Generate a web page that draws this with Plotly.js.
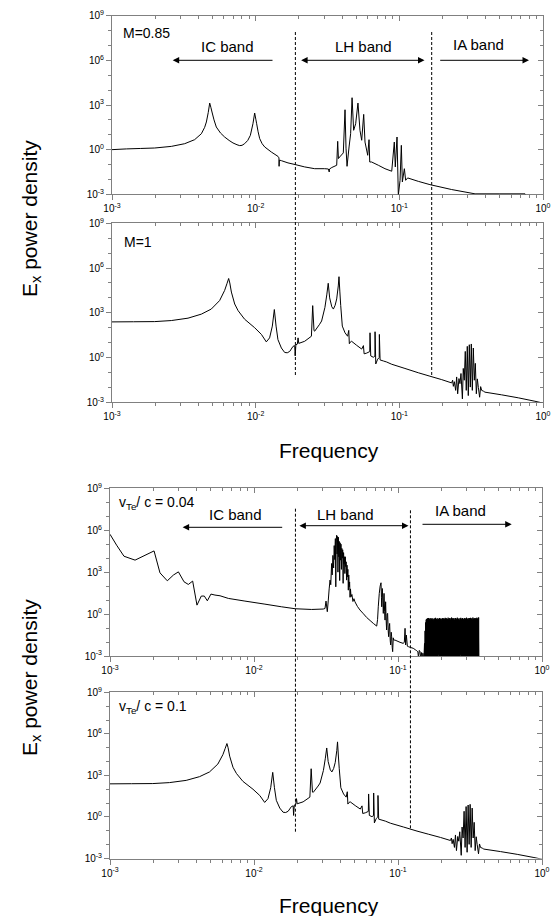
<!DOCTYPE html>
<html>
<head>
<meta charset="utf-8">
<script src="https://cdn.plot.ly/plotly-3.0.1.min.js"></script>
<style>html,body{margin:0;padding:0;background:#fff;}#chart{width:555px;height:916px;}</style>
</head>
<body>
<div id="chart"></div>
<script>
// ---------- DATA (log10 values) ----------
// Panel 1: M = 0.85
const logFreqM085 = [
 -3.000,-2.900,-2.800,-2.703,-2.587,-2.494,-2.425,-2.378,-2.355,-2.343,
 -2.330,-2.320,-2.312,-2.304,-2.290,-2.274,-2.245,-2.216,-2.185,-2.158,
 -2.130,-2.111,-2.095,-2.077,-2.055,-2.037,-2.019,-2.007,-1.998,-1.993,
 -1.983,-1.972,-1.955,-1.937,-1.891,-1.845,-1.838,-1.837,-1.835,-1.821,
 -1.775,-1.726,-1.659,-1.589,-1.520,-1.494,-1.488,-1.486,-1.470,-1.436,
 -1.429,-1.424,-1.415,-1.390,-1.378,-1.371,-1.364,-1.350,-1.339,-1.329,
 -1.318,-1.304,-1.288,-1.274,-1.262,-1.248,-1.239,-1.220,-1.211,-1.206,
 -1.193,-1.146,-1.100,-1.053,-1.035,-1.028,-1.016,-1.007,-0.995,-0.986,
 -0.979,-0.965,-0.956,-0.942,-0.868,-0.787,-0.636,-0.473,-0.300,-0.125,
 -0.110,0.000];
const logPowerM085 = [
 0.00,0.05,0.08,0.11,0.22,0.40,0.67,1.07,1.50,1.86,
 2.50,3.13,2.85,2.53,2.00,1.52,1.12,0.85,0.62,0.45,
 0.33,0.27,0.29,0.40,0.62,0.96,1.74,2.46,2.00,1.74,
 1.20,0.74,0.40,0.18,-0.16,-0.45,-0.55,-1.12,-0.70,-0.74,
 -0.89,-1.00,-1.16,-1.28,-1.28,-1.30,-1.50,-1.30,-1.20,-1.05,
 0.56,-0.60,-0.49,-0.22,2.68,0.10,-1.12,0.18,1.07,3.49,
 1.30,1.74,3.13,1.30,0.63,2.37,0.51,-0.38,0.67,-0.83,
 -0.83,-1.05,-1.28,-1.45,0.51,-1.16,0.85,-3.06,-2.06,0.29,
 -2.17,-1.28,-2.06,-1.90,-2.13,-2.35,-2.68,-2.97,-2.97,-2.97,
 -3.40,-4.00];

// Panel 2: M = 1  (panel 4, vTe/c = 0.1, shows the same spectrum)
const logFreqM1 = [
 -3.000,-2.850,-2.703,-2.587,-2.471,-2.378,-2.309,-2.251,-2.216,-2.200,
 -2.188,-2.180,-2.169,-2.146,-2.122,-2.077,-2.007,-1.960,-1.926,-1.903,
 -1.884,-1.870,-1.858,-1.845,-1.821,-1.798,-1.780,-1.763,-1.740,-1.728,
 -1.725,-1.720,-1.710,-1.705,-1.700,-1.659,-1.612,-1.603,-1.594,-1.589,
 -1.555,-1.541,-1.518,-1.505,-1.495,-1.485,-1.470,-1.459,-1.447,-1.436,
 -1.425,-1.420,-1.414,-1.408,-1.397,-1.378,-1.360,-1.352,-1.348,-1.340,
 -1.332,-1.297,-1.262,-1.250,-1.245,-1.227,-1.206,-1.204,-1.199,-1.181,
 -1.170,-1.169,-1.164,-1.151,-1.140,-1.139,-1.134,-1.111,-1.088,-1.053,
 -0.961,-0.868,-0.787,-0.705,-0.636,-0.629,-0.624,-0.617,-0.608,-0.601,
 -0.594,-0.585,-0.578,-0.571,-0.561,-0.555,-0.548,-0.541,-0.534,-0.527,
 -0.520,-0.513,-0.506,-0.499,-0.492,-0.485,-0.478,-0.471,-0.464,-0.457,
 -0.450,-0.441,-0.434,-0.427,-0.415,-0.404,-0.288,-0.172,-0.056,0.000];
const logPowerM1 = [
 2.39,2.40,2.41,2.48,2.64,2.91,3.25,3.82,4.50,4.95,
 5.30,5.00,4.39,3.59,3.14,2.57,2.00,1.55,1.05,1.32,
 2.11,3.22,2.11,1.20,0.64,0.34,0.32,0.41,0.75,0.80,
 0.11,0.86,0.90,1.32,0.95,1.09,1.43,3.48,1.80,1.77,
 2.23,2.45,3.36,4.20,4.98,4.00,3.40,3.25,3.50,3.93,
 4.80,5.42,4.40,3.48,2.11,1.66,1.43,1.82,0.93,1.05,
 1.09,0.82,0.57,0.80,0.25,0.30,0.40,1.66,0.11,0.02,
 0.10,1.73,-0.43,-0.11,0.00,1.55,-0.16,-0.23,-0.30,-0.45,
 -0.73,-1.02,-1.25,-1.48,-1.70,-1.52,-1.93,-1.62,-2.20,-1.30,
 -2.43,-1.41,-1.75,-1.07,-2.77,-0.73,-1.52,0.41,-2.20,0.75,
 -2.55,0.86,-1.98,0.91,-2.20,0.64,-1.52,-0.39,-2.43,-1.43,
 -2.00,-2.66,-1.95,-2.20,-2.25,-2.32,-2.50,-2.70,-2.93,-3.05];

// Panel 3: vTe/c = 0.04
const logFreqV004 = [
 -3.000,-2.954,-2.903,-2.826,-2.694,-2.653,-2.602,-2.560,-2.525,-2.486,
 -2.456,-2.426,-2.396,-2.366,-2.345,-2.324,-2.299,-2.271,-2.236,-2.178,
 -2.063,-1.924,-1.808,-1.713,-1.600,-1.519,-1.507,-1.500,-1.491,-1.484,
 -1.478,-1.472,-1.467,-1.461,-1.457,-1.452,-1.447,-1.443,-1.439,-1.435,
 -1.432,-1.429,-1.426,-1.423,-1.420,-1.417,-1.414,-1.411,-1.408,-1.405,
 -1.402,-1.399,-1.396,-1.393,-1.390,-1.387,-1.384,-1.381,-1.378,-1.375,
 -1.372,-1.369,-1.366,-1.363,-1.360,-1.357,-1.354,-1.351,-1.348,-1.345,
 -1.342,-1.339,-1.336,-1.333,-1.330,-1.326,-1.320,-1.313,-1.306,-1.299,
 -1.282,-1.264,-1.240,-1.218,-1.194,-1.171,-1.148,-1.142,-1.137,-1.130,
 -1.124,-1.118,-1.115,-1.113,-1.109,-1.105,-1.102,-1.097,-1.093,-1.090,
 -1.086,-1.082,-1.079,-1.075,-1.072,-1.068,-1.065,-1.061,-1.058,-1.054,
 -1.051,-1.047,-1.044,-1.040,-1.037,-1.033,-1.030,-1.021,-0.986,-0.963,
 -0.956,-0.951,-0.947,-0.942,-0.935,-0.928,-0.910,-0.894,-0.880,-0.870,
 -0.862,-0.858,-0.852,-0.847,-0.842,-0.836,-0.831,-0.827,-0.824,-0.820,
 // IA band (dense)
 -0.816,-0.814,-0.812,-0.810,-0.808,-0.806,-0.804,-0.802,-0.800,-0.798,
 -0.796,-0.794,-0.792,-0.790,-0.788,-0.786,-0.784,-0.782,-0.780,-0.778,
 -0.776,-0.774,-0.772,-0.770,-0.768,-0.766,-0.764,-0.762,-0.760,-0.758,
 -0.756,-0.754,-0.752,-0.750,-0.748,-0.746,-0.744,-0.742,-0.740,-0.738,
 -0.736,-0.734,-0.732,-0.730,-0.728,-0.726,-0.724,-0.722,-0.720,-0.718,
 -0.716,-0.714,-0.712,-0.710,-0.708,-0.706,-0.704,-0.702,-0.700,-0.698,
 -0.696,-0.694,-0.692,-0.690,-0.688,-0.686,-0.684,-0.682,-0.680,-0.678,
 -0.676,-0.674,-0.672,-0.670,-0.668,-0.666,-0.664,-0.662,-0.660,-0.658,
 -0.656,-0.654,-0.652,-0.650,-0.648,-0.646,-0.644,-0.642,-0.640,-0.638,
 -0.636,-0.634,-0.632,-0.630,-0.628,-0.626,-0.624,-0.622,-0.620,-0.618,
 -0.616,-0.614,-0.612,-0.610,-0.608,-0.606,-0.604,-0.602,-0.600,-0.598,
 -0.596,-0.594,-0.592,-0.590,-0.588,-0.586,-0.584,-0.582,-0.580,-0.578,
 -0.576,-0.574,-0.572,-0.570,-0.568,-0.566,-0.564,-0.562,-0.560,-0.558,
 -0.556,-0.554,-0.552,-0.550,-0.548,-0.546,-0.544,-0.542,-0.540,-0.538,
 -0.536,-0.534,-0.532,-0.530,-0.528,-0.526,-0.524,-0.522,-0.520,-0.518,
 -0.516,-0.514,-0.512,-0.510,-0.508,-0.506,-0.504,-0.502,-0.500,-0.498,
 -0.496,-0.494,-0.492,-0.490,-0.488,-0.486,-0.484,-0.482,-0.480,-0.478,
 -0.476,-0.474,-0.472,-0.470,-0.468,-0.466,-0.464,-0.462,-0.460,-0.458,
 -0.456,-0.454,-0.452,-0.450,-0.448,-0.446,-0.444,-0.442,-0.440,-0.438,
 -0.436];
const logPowerV004 = [
 5.71,4.93,4.14,3.86,4.52,2.95,2.38,2.79,3.02,2.31,
 2.12,2.36,0.64,1.29,1.29,0.95,1.43,1.36,1.31,1.12,
 0.93,0.71,0.52,0.38,0.33,0.36,0.40,0.93,0.17,1.00,
 1.80,2.43,2.10,3.62,2.80,4.20,3.30,4.90,3.90,5.40,
 1.95,5.30,5.64,4.30,5.55,3.00,5.50,4.10,5.20,2.40,
 5.10,3.86,5.00,3.20,4.70,4.00,4.60,2.20,4.40,3.60,
 4.10,2.90,4.10,3.40,3.74,2.43,3.50,2.67,3.20,1.71,
 2.80,1.95,2.30,1.20,1.80,1.24,1.40,0.90,1.10,0.88,
 0.55,0.29,0.02,-0.24,-0.46,-0.67,-0.86,-0.40,0.52,1.48,
 2.00,2.24,1.20,0.52,1.83,1.00,0.05,1.48,0.20,-0.43,
 0.88,-0.50,-1.14,0.00,0.05,-1.20,-1.62,-0.90,-0.67,-1.90,
 -2.21,-1.30,-1.62,-2.40,-2.69,-1.70,-1.86,-1.86,-2.02,-2.10,
 -2.00,-1.02,-2.21,-1.50,-2.30,-2.33,-2.40,-2.45,-2.55,-2.62,
 -2.70,-3.10,-2.60,-2.69,-3.20,-2.75,-3.30,-2.80,-3.00,-3.20,
 // IA band (dense)
 -2.10,-3.20,-1.20,-3.30,-0.60,-3.10,-0.40,-3.40,-0.35,-3.20,
 -0.30,-3.50,-0.38,-3.10,-0.28,-3.30,-0.42,-3.60,-0.33,-2.90,
 -0.30,-3.40,-0.45,-3.20,-0.36,-3.50,-0.29,-3.10,-0.40,-3.30,
 -0.34,-3.60,-0.44,-3.20,-0.31,-3.00,-0.38,-3.40,-0.27,-3.20,
 -0.41,-3.50,-0.35,-3.10,-0.30,-3.30,-0.43,-3.40,-0.33,-2.90,
 -0.37,-3.60,-0.28,-3.20,-0.40,-3.40,-0.32,-3.10,-0.45,-3.50,
 -0.34,-3.20,-0.29,-3.30,-0.39,-3.00,-0.31,-3.40,-0.42,-3.20,
 -0.33,-3.60,-0.27,-3.10,-0.36,-3.30,-0.30,-3.50,-0.41,-3.20,
 -0.35,-3.40,-0.26,-3.00,-0.38,-3.30,-0.32,-3.50,-0.29,-3.20,
 -0.40,-3.40,-0.31,-3.10,-0.25,-3.30,-0.34,-3.50,-0.30,-3.20,
 -0.37,-3.40,-0.29,-3.10,-0.43,-3.30,-0.32,-3.60,-0.28,-3.00,
 -0.39,-3.30,-0.33,-3.50,-0.26,-3.20,-0.41,-3.40,-0.35,-3.10,
 -0.30,-3.60,-0.44,-3.20,-0.34,-2.90,-0.27,-3.40,-0.38,-3.30,
 -0.32,-3.50,-0.29,-3.10,-0.42,-3.30,-0.36,-3.40,-0.28,-3.20,
 -0.40,-3.00,-0.31,-3.50,-0.35,-3.30,-0.26,-3.20,-0.39,-3.60,
 -0.33,-3.10,-0.30,-3.40,-0.44,-3.20,-0.29,-3.30,-0.37,-3.50,
 -0.27,-3.20,-0.34,-3.40,-0.31,-3.00,-0.40,-3.30,-0.25,-3.50,
 -0.36,-3.20,-0.30,-3.40,-0.33,-3.10,-0.28,-3.30,-0.38,-3.60,
 -0.32,-3.20,-0.26,-3.40,-0.35,-3.10,-0.30,-3.50,-0.24,-3.30,
 -3.80];

// Band boundaries (frequency) and tick labels
const bandEdgesUpper = [0.0189, 0.168];
const bandEdgesLower = [0.0194, 0.122];
const xMajorTicks = [1e-3, 1e-2, 1e-1, 1];
const xMajorText = ['10<sup>-3</sup>','10<sup>-2</sup>','10<sup>-1</sup>','10<sup>0</sup>'];
const xMinorTicks = [2e-3,3e-3,4e-3,5e-3,6e-3,7e-3,8e-3,9e-3,2e-2,3e-2,4e-2,5e-2,6e-2,7e-2,8e-2,9e-2,0.2,0.3,0.4,0.5,0.6,0.7,0.8,0.9];
const yMajorTicks = [1e-3, 1, 1e3, 1e6, 1e9];
const yMajorText = ['10<sup>-3</sup>','10<sup>0</sup>','10<sup>3</sup>','10<sup>6</sup>','10<sup>9</sup>'];
const yMinorTicks = [1e-2,1e-1,10,100,1e4,1e5,1e7,1e8];
const panelLabels = ['M=0.85','M=1','v<sub>Te</sub>/ c = 0.04','v<sub>Te</sub>/ c = 0.1'];
const bandNames = ['IC band','LH band','IA band'];

// ---------- STYLE ----------
const FONT = 'Liberation Sans, Arial, Helvetica, sans-serif';
const GRAY = '#808080';
const W = 555, H = 916;
const px = v => v / W;
const py = v => 1 - v / H;
const toLin = a => a.map(v => Math.pow(10, v));

function trace(lx, ly, xa, ya) {
  return {x: toLin(lx), y: toLin(ly), xaxis: xa, yaxis: ya, type: 'scatter', mode: 'lines',
          line: {color: '#000', width: 1, simplify: false}, hoverinfo: 'skip', showlegend: false};
}
const data = [
  trace(logFreqM085, logPowerM085, 'x', 'y'),
  trace(logFreqM1, logPowerM1, 'x2', 'y2'),
  trace(logFreqV004, logPowerV004, 'x3', 'y3'),
  trace(logFreqM1, logPowerM1, 'x4', 'y4')
];
// empty traces so the mirror (top / right) axes are built
for (let i = 1; i <= 4; i++) {
  const xs = i === 1 ? '' : i;
  data.push({x: [], y: [], xaxis: 'x' + (i + 4), yaxis: 'y' + xs, type: 'scatter', mode: 'lines', showlegend: false});
  data.push({x: [], y: [], xaxis: 'x' + xs, yaxis: 'y' + (i + 4), type: 'scatter', mode: 'lines', showlegend: false});
}

function axisBase() {
  return {type: 'log', showgrid: false, zeroline: false, showline: true, linecolor: GRAY, linewidth: 1,
          ticklen: 5, tickwidth: 1, tickcolor: GRAY, fixedrange: true, layer: 'below traces',
          tickfont: {family: FONT, size: 10, color: '#000'}, tickmode: 'array'};
}
function xAx(domain, anchor) {
  return Object.assign(axisBase(), {domain: domain, anchor: anchor, range: [-3, 0], ticks: 'outside',
    tickvals: xMajorTicks, ticktext: xMajorText,
    minor: {tickvals: xMinorTicks, ticks: 'outside', ticklen: 3, tickcolor: GRAY, tickwidth: 1}});
}
function xTop(over, anchor) {
  return Object.assign(axisBase(), {overlaying: over, side: 'top', anchor: anchor, range: [-3, 0], ticks: 'inside',
    tickvals: xMajorTicks, showticklabels: false,
    minor: {tickvals: xMinorTicks, ticks: 'inside', ticklen: 3, tickcolor: GRAY, tickwidth: 1}});
}
function yAx(domain, anchor) {
  return Object.assign(axisBase(), {domain: domain, anchor: anchor, range: [-3, 9], ticks: 'outside',
    tickvals: yMajorTicks, ticktext: yMajorText,
    minor: {tickvals: yMinorTicks, ticks: 'outside', ticklen: 3, tickcolor: GRAY, tickwidth: 1}});
}
function yRight(over, anchor) {
  return Object.assign(axisBase(), {overlaying: over, side: 'right', anchor: anchor, range: [-3, 9], ticks: 'inside',
    tickvals: yMajorTicks, showticklabels: false,
    minor: {tickvals: yMinorTicks, ticks: 'inside', ticklen: 3, tickcolor: GRAY, tickwidth: 1}});
}

const xUp = [px(112), px(543)], xLow = [px(110), px(542)];
const yD = [[py(194.3), py(15.7)], [py(402.3), py(223.3)], [py(656), py(488.3)], [py(858.5), py(692.3)]];

function txt(text, x, y, size, anchor) {
  return {text: text, x: x, y: y, xref: 'paper', yref: 'paper', showarrow: false,
          xanchor: anchor || 'center', yanchor: 'middle', font: {family: FONT, size: size, color: '#000'}};
}
function arrow(xHead, y, dx, both) {
  const a = {text: '', x: xHead, y: y, xref: 'paper', yref: 'paper', showarrow: true,
             ax: dx, ay: 0, arrowhead: 2, arrowsize: 1.3, arrowwidth: 1, arrowcolor: '#000'};
  if (both) { a.arrowside = 'end+start'; a.startarrowhead = 2; a.startarrowsize = 1.3; }
  return a;
}

const annotations = [
  txt(panelLabels[0], px(120.6), py(33.3), 14, 'left'),
  txt(panelLabels[1], px(121.6), py(241.7), 14, 'left'),
  txt(panelLabels[2], px(117), py(503.3), 14, 'left'),
  txt(panelLabels[3], px(117), py(707.3), 14, 'left'),
  txt(bandNames[0], px(227), py(46.7), 15),
  txt(bandNames[1], px(363.5), py(46.7), 15),
  txt(bandNames[2], px(478.7), py(44.3), 15),
  txt(bandNames[0], px(235.8), py(514), 15),
  txt(bandNames[1], px(345.7), py(514), 15),
  txt(bandNames[2], px(460.3), py(510.7), 15),
  arrow(px(172.7), py(60.3), 101.3, false),
  arrow(px(424.5), py(60.3), -124.9, true),
  arrow(px(529), py(60.3), -90.3, false),
  arrow(px(182.6), py(527.3), 101.1, false),
  arrow(px(408.5), py(525.7), -110.6, true),
  arrow(px(511.7), py(524.3), -90.7, false),
  Object.assign(txt('E<sub>x</sub> power density', px(31), py(219), 21), {textangle: -90}),
  Object.assign(txt('E<sub>x</sub> power density', px(31), py(678), 21), {textangle: -90}),
  txt('Frequency', px(329), py(450), 21),
  txt('Frequency', px(329), py(905), 21)
];

// shapes on log axes take data values
function vline(xr, f, y0, y1) {
  return {type: 'line', xref: xr, yref: 'paper', x0: f, x1: f, y0: y0, y1: y1,
          line: {color: '#000', width: 1, dash: '3px,2px'}, layer: 'above'};
}
const shapes = [
  vline('x', bandEdgesUpper[0], py(375), py(31.7)),
  vline('x', bandEdgesUpper[1], py(375), py(31.7)),
  vline('x3', bandEdgesLower[0], py(831.7), py(508.3)),
  vline('x3', bandEdgesLower[1], py(828.3), py(508.3))
];

const layout = {
  width: W, height: H, margin: {l: 0, r: 0, t: 0, b: 0},
  paper_bgcolor: '#fff', plot_bgcolor: 'rgba(0,0,0,0)', showlegend: false,
  font: {family: FONT, color: '#000'},
  xaxis: xAx(xUp, 'y'), xaxis2: xAx(xUp, 'y2'), xaxis3: xAx(xLow, 'y3'), xaxis4: xAx(xLow, 'y4'),
  yaxis: yAx(yD[0], 'x'), yaxis2: yAx(yD[1], 'x2'), yaxis3: yAx(yD[2], 'x3'), yaxis4: yAx(yD[3], 'x4'),
  xaxis5: xTop('x', 'y'), xaxis6: xTop('x2', 'y2'), xaxis7: xTop('x3', 'y3'), xaxis8: xTop('x4', 'y4'),
  yaxis5: yRight('y', 'x'), yaxis6: yRight('y2', 'x2'), yaxis7: yRight('y3', 'x3'), yaxis8: yRight('y4', 'x4'),
  annotations: annotations, shapes: shapes
};

Plotly.newPlot('chart', data, layout, {staticPlot: true, displayModeBar: false});
</script>
</body>
</html>
